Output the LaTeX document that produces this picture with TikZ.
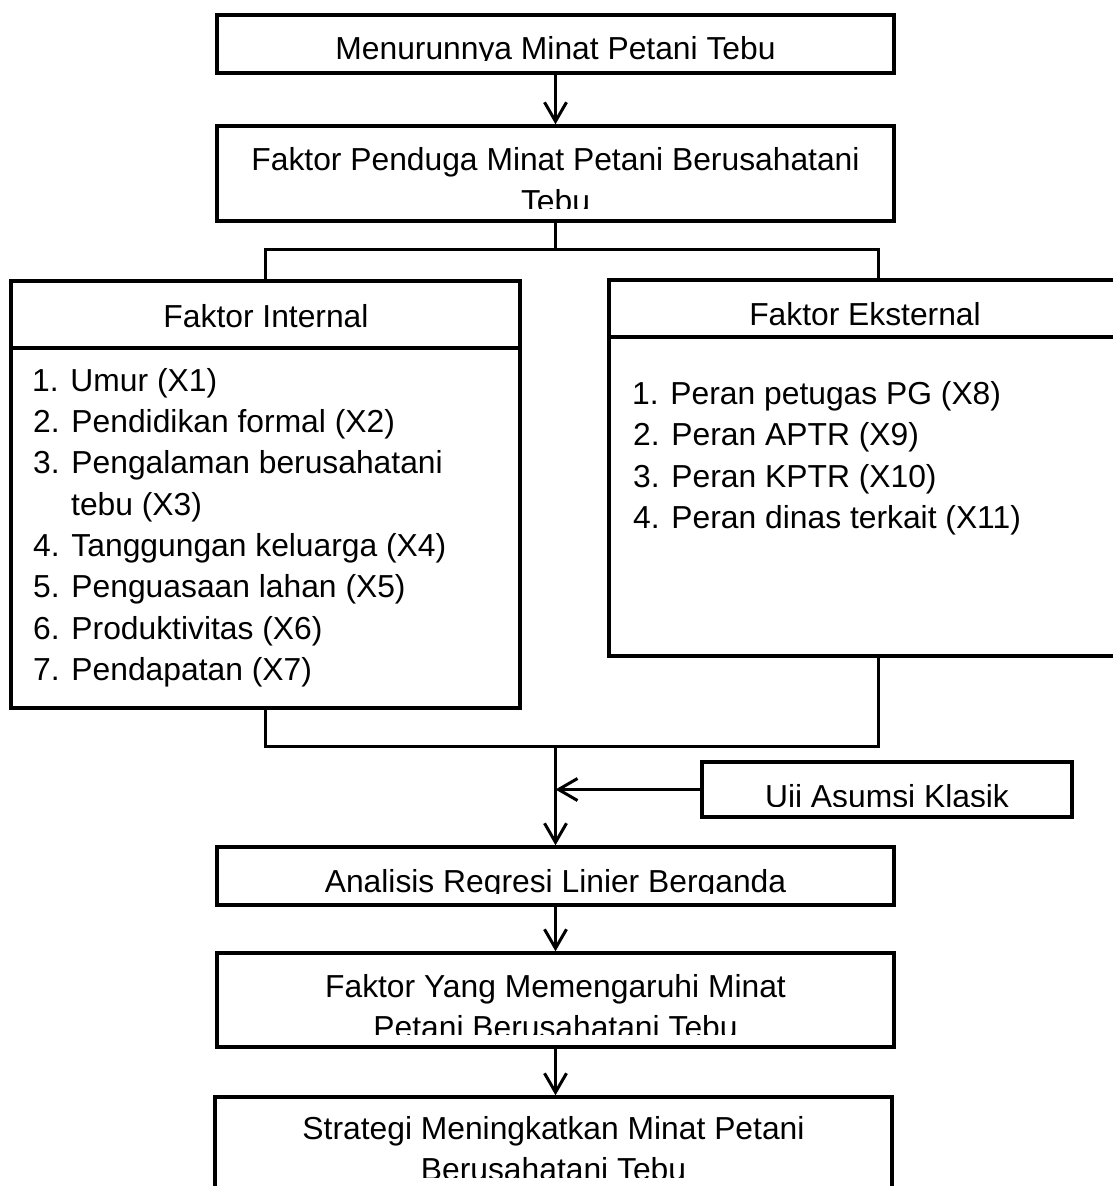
\documentclass[tikz,border=0pt]{standalone}
\usepackage{fontspec}
\setmainfont{Liberation Sans}
\usetikzlibrary{arrows.meta}
\begin{document}
\begin{tikzpicture}[x=1pt,y=-1pt,
  boxst/.style={draw, line width=3.5pt, inner sep=0pt, minimum width=#1},
  txt/.style={inner sep=0pt, anchor=base, font=\fontsize{31.8}{41.5}\selectfont},
  ltxt/.style={inner sep=0pt, anchor=base west, font=\fontsize{31.8}{41.5}\selectfont},
  conn/.style={line width=3pt},
  arr/.style={line width=3pt, -{Straight Barb[length=19pt,width=22pt,line width=3pt]}}
]
\useasboundingbox (0,0) rectangle (1113,1186);
\clip (0,0) rectangle (1113,1186);
\fill[white] (0,0) rectangle (1113,1186);

% boxes
\node[boxst=677pt, minimum height=58pt] (b1) at (555.5,44) {};
\node[boxst=677pt, minimum height=95pt] (b2) at (555.5,173.5) {};
\node[boxst=509pt, minimum height=427pt] (int) at (265.5,494.5) {};
\node[boxst=538pt, minimum height=376pt] (ext) at (878,468) {};
\node[boxst=370pt, minimum height=55pt] (uji) at (887,789.5) {};
\node[boxst=677pt, minimum height=58pt] (ana) at (555.5,876) {};
\node[boxst=677pt, minimum height=94pt] (fy) at (555.5,1000) {};
\node[boxst=677pt, minimum height=95pt] (str) at (553.5,1144.5) {};

% header dividers
\draw[line width=3.5pt] (int.west |- 0,348) -- (int.east |- 0,348);
\draw[line width=3.5pt] (ext.west |- 0,337) -- (ext.east |- 0,337);

% texts (clipped as in the reference)
\begin{scope}
\clip (200,20) rectangle (910,60);
\node[txt] (t1) at (555.5,59) {Menurunnya Minat Petani Tebu};
\end{scope}
\begin{scope}
\clip (200,130) rectangle (910,208);
\node[txt] (t2a) at (555.5,170) {Faktor Penduga Minat Petani Berusahatani};
\node[txt] (t2b) at (555.5,212) {Tebu};
\end{scope}
\node[txt] (tint) at (266,327) {Faktor Internal};
\node[txt] (text) at (865,325) {Faktor Eksternal};

\node[ltxt] (l1) at (32,391) {1. Umur (X1)};
\node[ltxt] (l2) at (33,432) {2. Pendidikan formal (X2)};
\node[ltxt] (l3) at (33,473.5) {3. Pengalaman berusahatani};
\node[ltxt] (l3b) at (71,515) {tebu (X3)};
\node[ltxt] (l4) at (33,556.5) {4. Tanggungan keluarga (X4)};
\node[ltxt] (l5) at (33,597.5) {5. Penguasaan lahan (X5)};
\node[ltxt] (l6) at (33,639) {6. Produktivitas (X6)};
\node[ltxt] (l7) at (33,680) {7. Pendapatan (X7)};

\node[ltxt] (r1) at (632,404) {1. Peran petugas PG (X8)};
\node[ltxt] (r2) at (633,445.5) {2. Peran APTR (X9)};
\node[ltxt] (r3) at (633,487) {3. Peran KPTR (X10)};
\node[ltxt] (r4) at (633,528) {4. Peran dinas terkait (X11)};

\begin{scope}
\clip (705,765) rectangle (1068,806);
\node[txt] (tu) at (887,807) {Uji Asumsi Klasik};
\end{scope}
\begin{scope}
\clip (220,850) rectangle (890,893);
\node[txt] (ta) at (555.5,892) {Analisis Regresi Linier Berganda};
\end{scope}
\begin{scope}
\clip (220,956) rectangle (890,1034);
\node[txt] (tf1) at (555.5,997) {Faktor Yang Memengaruhi Minat};
\node[txt] (tf2) at (555.5,1038.5) {Petani Berusahatani Tebu};
\end{scope}
\begin{scope}
\clip (220,1100) rectangle (890,1177);
\node[txt] (ts1) at (553.5,1139) {Strategi Meningkatkan Minat Petani};
\node[txt] (ts2) at (553.5,1180.5) {Berusahatani Tebu};
\end{scope}

% connectors
\coordinate (j1) at (b2.south |- 0,249);
\coordinate (j2) at (ana.north |- 0,746);
\draw[arr] (b1.south) -- (b2.north);
\draw[conn] (b2.south) -- (j1);
\draw[conn] (int.north) |- (j1) -| (ext.north);
\draw[conn] (int.south) |- (j2) -| (ext.south);
\draw[arr] (j2) -- (ana.north);
\draw[arr] (uji.west) -- (uji.west -| j2);
\draw[arr] (ana.south) -- (fy.north);
\draw[arr] (fy.south) -- (fy.south |- str.north);
\end{tikzpicture}
\end{document}
